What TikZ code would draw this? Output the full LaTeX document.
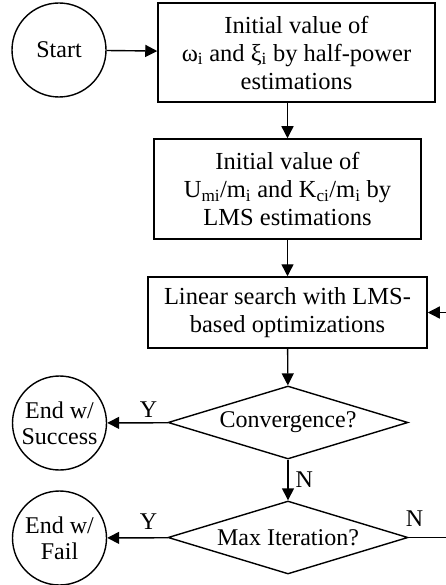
\documentclass[tikz,border=0pt]{standalone}
\usepackage{fontspec}
\setmainfont{Liberation Serif}
\usetikzlibrary{shapes.geometric,arrows.meta}

\begin{document}
\begin{tikzpicture}[x=1pt, y=-1pt]
    % Stili
    \tikzstyle{stepbox}=[draw, line width=1.5pt, align=center, inner sep=0pt, font=\fontsize{24.5}{28}\selectfont]
    \tikzstyle{terminal}=[draw, circle, line width=1.4pt, minimum size=94pt, inner sep=0pt, align=center, font=\fontsize{24}{26}\selectfont]
    \tikzstyle{decision}=[draw, diamond, aspect=3.3, line width=1.4pt, minimum width=240pt, minimum height=73pt, inner sep=0pt, font=\fontsize{24}{28}\selectfont]
    \tikzstyle{arr}=[-{Triangle[length=12pt, width=12pt]}, line width=1.4pt]
    \tikzstyle{lab}=[font=\fontsize{24}{28}\selectfont, inner sep=0pt]

    \useasboundingbox (0,0) rectangle (446,585);

    % Inizio e stime iniziali
    \node[terminal] (start) at (59,50) {Start};
    \node[stepbox, minimum width=277pt, minimum height=99pt] (halfpower) at (296.5,52.5)
        {Initial value of\\ω\textsubscript{i} and ξ\textsubscript{i} by half-power\\estimations};
    \node[stepbox, minimum width=267pt, minimum height=100pt] (lmsinit) at (287.5,189)
        {Initial value of\\U\textsubscript{mi}/m\textsubscript{i} and K\textsubscript{ci}/m\textsubscript{i} by\\LMS estimations};

    % Ricerca lineare
    \node[stepbox, minimum width=279pt, minimum height=71pt] (search) at (287.5,312.5)
        {Linear search with LMS-\\based optimizations};

    % Decisioni
    \node[decision] (conv) at (288,422.5) {Convergence?};
    \node[decision] (maxit) at (288,537.5) {Max Iteration?};

    % Fine
    \node[terminal] (success) at (59.5,423) {End w/\\Success};
    \node[terminal] (fail) at (59.5,538) {End w/\\Fail};

    \coordinate (loopx) at (447.5,0);

    % Frecce
    \draw[arr] (start) -- (halfpower);
    \draw[arr] (lmsinit.north |- halfpower.south) -- (lmsinit.north);
    \draw[arr] (lmsinit) -- (search);
    \draw[arr] (search) -- (conv);
    \draw[arr] (conv) -- node[lab, right=7pt] (n1) {N} (maxit);
    \draw[arr] (conv) -- node[lab, above=5pt, pos=0.32] (y1) {Y} (success);
    \draw[arr] (maxit) -- node[lab, above=8pt, pos=0.32] (y2) {Y} (fail);
    \draw[arr] (maxit.east) -- node[lab, above=10pt, pos=0.15] (n2) {N} (maxit.east -| loopx) |- (search.east);
\end{tikzpicture}
\end{document}
